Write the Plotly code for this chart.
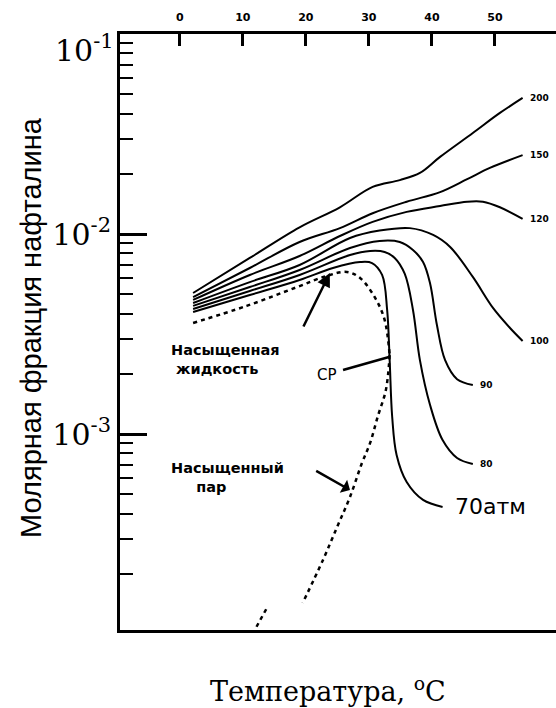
import math
import plotly.graph_objects as go

# Naphthalene mole fraction in the vapour phase vs temperature, isobars (atm)
T200 = [2.1, 11.1, 19.0, 25.4, 30.6, 34.9, 38.1, 41.3, 46.5, 50.8, 54.4]
Y200 = [5.07e-3, 7.59e-3, 1.08e-2, 1.36e-2, 1.72e-2, 1.86e-2, 2.02e-2, 2.43e-2, 3.20e-2, 4.03e-2, 4.79e-2]

T150 = [2.1, 11.1, 19.0, 25.4, 30.6, 36.0, 41.3, 45.6, 49.2, 54.4]
Y150 = [4.84e-3, 6.76e-3, 9.12e-3, 1.07e-2, 1.27e-2, 1.45e-2, 1.62e-2, 1.88e-2, 2.14e-2, 2.48e-2]

T120 = [2.1, 11.1, 19.0, 25.4, 30.6, 36.0, 41.3, 45.6, 48.1, 50.8, 54.4]
Y120 = [4.68e-3, 6.24e-3, 7.76e-3, 9.77e-3, 1.15e-2, 1.29e-2, 1.38e-2, 1.45e-2, 1.45e-2, 1.36e-2, 1.19e-2]

T100 = [2.1, 11.1, 19.0, 27.0, 31.7, 36.5, 40.2, 42.9, 46.5, 49.7, 52.4, 54.4]
Y100 = [4.52e-3, 5.75e-3, 7.00e-3, 9.55e-3, 1.04e-2, 1.07e-2, 9.89e-3, 8.61e-3, 6.10e-3, 4.27e-3, 3.39e-3, 2.92e-3]

T90 = [2.1, 11.1, 19.0, 27.0, 31.7, 34.9, 37.0, 38.6, 39.7, 40.8, 42.1, 44.0, 46.5]
Y90 = [4.37e-3, 5.43e-3, 6.61e-3, 8.51e-3, 9.23e-3, 9.12e-3, 8.32e-3, 7.24e-3, 5.69e-3, 3.51e-3, 2.34e-3, 1.88e-3, 1.76e-3]

T80 = [2.1, 11.1, 19.0, 27.0, 30.2, 32.5, 34.1, 35.7, 37.0, 38.1, 39.7, 41.7, 44.0, 46.5]
Y80 = [4.22e-3, 5.19e-3, 6.24e-3, 7.85e-3, 8.22e-3, 8.13e-3, 7.59e-3, 6.31e-3, 4.17e-3, 2.34e-3, 1.40e-3, 9.33e-4, 7.59e-4, 7.08e-4]

T70 = [2.1, 11.1, 19.0, 24.3, 28.6, 30.5, 32.1, 32.9, 33.3, 33.7, 34.4, 36.0, 38.6, 41.7]
Y70 = [4.07e-3, 4.95e-3, 5.89e-3, 6.76e-3, 7.24e-3, 7.16e-3, 6.24e-3, 4.17e-3, 2.34e-3, 1.22e-3, 7.85e-4, 5.75e-4, 4.68e-4, 4.32e-4]

# Saturated liquid and saturated vapour boundaries (meet at the critical point CP)
T_LIQ = [2.1, 10.6, 18.6, 23.3, 26.5, 28.6, 31.0, 32.5, 33.3]
Y_LIQ = [3.59e-3, 4.37e-3, 5.43e-3, 6.17e-3, 6.46e-3, 6.03e-3, 4.79e-3, 3.72e-3, 2.48e-3]
T_VAP = [33.3, 32.7, 31.4, 30.2, 28.9, 27.0, 25.1, 22.7, 19.5, None, 13.7, 11.9]
Y_VAP = [2.48e-3, 1.66e-3, 1.22e-3, 9.02e-4, 7.16e-4, 4.84e-4, 3.51e-4, 2.34e-4, 1.43e-4, None, 1.33e-4, 1.05e-4]

ISOBARS = [
    ("200", T200, Y200),
    ("150", T150, Y150),
    ("120", T120, Y120),
    ("100", T100, Y100),
    ("90", T90, Y90),
    ("80", T80, Y80),
    ("70атм", T70, Y70),
]

X_TICKS = [0, 10, 20, 30, 40, 50]
Y_TICKS = [1e-3, 1e-2, 1e-1]
Y_TICK_TEXT = ["10<sup>-3</sup>", "10<sup>-2</sup>", ""]
Y_TOP_LABEL = "10<sup>-1</sup>"
Y_MINOR = [m * 10.0 ** e for e in (-4, -3, -2) for m in range(2, 10)]

fig = go.Figure()

for name, t, y in ISOBARS:
    fig.add_trace(go.Scatter(
        x=t, y=y, mode="lines", name=name,
        line=dict(color="black", width=2, shape="spline", smoothing=1.0),
    ))

for t, y in ((T_LIQ, Y_LIQ), (T_VAP, Y_VAP)):
    fig.add_trace(go.Scatter(
        x=t, y=y, mode="lines", connectgaps=False,
        line=dict(color="black", width=2.5, dash="4px,4px", shape="spline", smoothing=1.0),
    ))

# Pointer from the CP label to the critical point
CP_LINE_T = [25.9, 33.2]
CP_LINE_Y = [10 ** -2.68, 10 ** -2.615]
fig.add_trace(go.Scatter(x=CP_LINE_T, y=CP_LINE_Y, mode="lines",
                         line=dict(color="black", width=2.5)))

tick_font = dict(family="DejaVu Serif", size=30, color="black")

annotations = []
small_bold = dict(family="DejaVu Sans", size=9, color="black", weight="bold")
for name, t, y in ISOBARS:
    if name == "70атм":
        font = dict(family="DejaVu Sans", size=22, color="black")
        shift = 10
    else:
        font = small_bold
        shift = 5
    annotations.append(dict(
        x=t[-1], y=math.log10(y[-1]), xref="x", yref="y", text=name,
        showarrow=False, xanchor="left", yanchor="middle", xshift=shift, font=font,
    ))

label_font = dict(family="DejaVu Sans", size=14.5, color="black", weight="bold")
annotations += [
    # top decade label sits a little below the frame corner
    dict(x=0, y=math.log10(Y_TICKS[-1]), xref="paper", yref="y", text=Y_TOP_LABEL,
         showarrow=False, xanchor="right", yanchor="middle", xshift=-4, yshift=-14,
         font=tick_font),
    dict(x=-1.7, y=-2.625, xref="x", yref="y", text="Насыщенная<br> жидкость",
         showarrow=False, xanchor="left", yanchor="middle", align="left", font=label_font),
    dict(x=-1.7, y=-3.215, xref="x", yref="y", text="Насыщенный<br>     пар",
         showarrow=False, xanchor="left", yanchor="middle", align="left", font=label_font),
    dict(x=23.3, y=-2.705, xref="x", yref="y", text="CP",
         showarrow=False, xanchor="center", yanchor="middle",
         font=dict(family="DejaVu Sans", size=15, color="black")),
    # arrow to the saturated liquid line
    dict(x=23.8, y=-2.195, ax=19.5, ay=-2.47, xref="x", yref="y", axref="x", ayref="y",
         text="", showarrow=True, arrowhead=2, arrowsize=1.1, arrowwidth=2.5, arrowcolor="black"),
    # arrow to the saturated vapour line
    dict(x=27.0, y=-3.28, ax=21.4, ay=-3.18, xref="x", yref="y", axref="x", ayref="y",
         text="", showarrow=True, arrowhead=1, arrowsize=1.0, arrowwidth=2.5, arrowcolor="black"),
    # axis titles
    dict(x=-0.204, y=0.507, xref="paper", yref="paper", text="Молярная фракция нафталина",
         textangle=-90, showarrow=False, xanchor="center", yanchor="middle",
         font=dict(family="Liberation Sans", size=29, color="black")),
    dict(x=0.477, y=-0.10, xref="paper", yref="paper", text="Температура, <sup>o</sup>C",
         showarrow=False, xanchor="center", yanchor="middle",
         font=dict(family="DejaVu Serif", size=27, color="black")),
]

fig.update_layout(
    width=556, height=708,
    margin=dict(l=120, r=0, t=34, b=78),
    paper_bgcolor="white", plot_bgcolor="white",
    showlegend=False,
    annotations=annotations,
    xaxis=dict(
        range=[-9.5, 59.7], side="top", showline=True, linecolor="black", linewidth=3,
        mirror=True, ticks="inside", ticklen=12, tickwidth=2.5, tickcolor="black",
        tickmode="array", tickvals=X_TICKS, showgrid=False, zeroline=False,
        ticklabelstandoff=6,
        tickfont=dict(family="DejaVu Sans", size=11, color="black", weight="bold"),
    ),
    yaxis=dict(
        type="log", range=[-3.98, -1.0], showline=True, linecolor="black", linewidth=3,
        ticks="inside", ticklen=27, tickwidth=2.5, tickcolor="black",
        tickmode="array", tickvals=Y_TICKS, ticktext=Y_TICK_TEXT, showgrid=False,
        zeroline=False,
        tickfont=tick_font,
        minor=dict(tickmode="array", tickvals=Y_MINOR, ticks="inside", ticklen=13,
                   tickwidth=2, tickcolor="black", showgrid=False),
    ),
)

fig.write_html("out.html")
